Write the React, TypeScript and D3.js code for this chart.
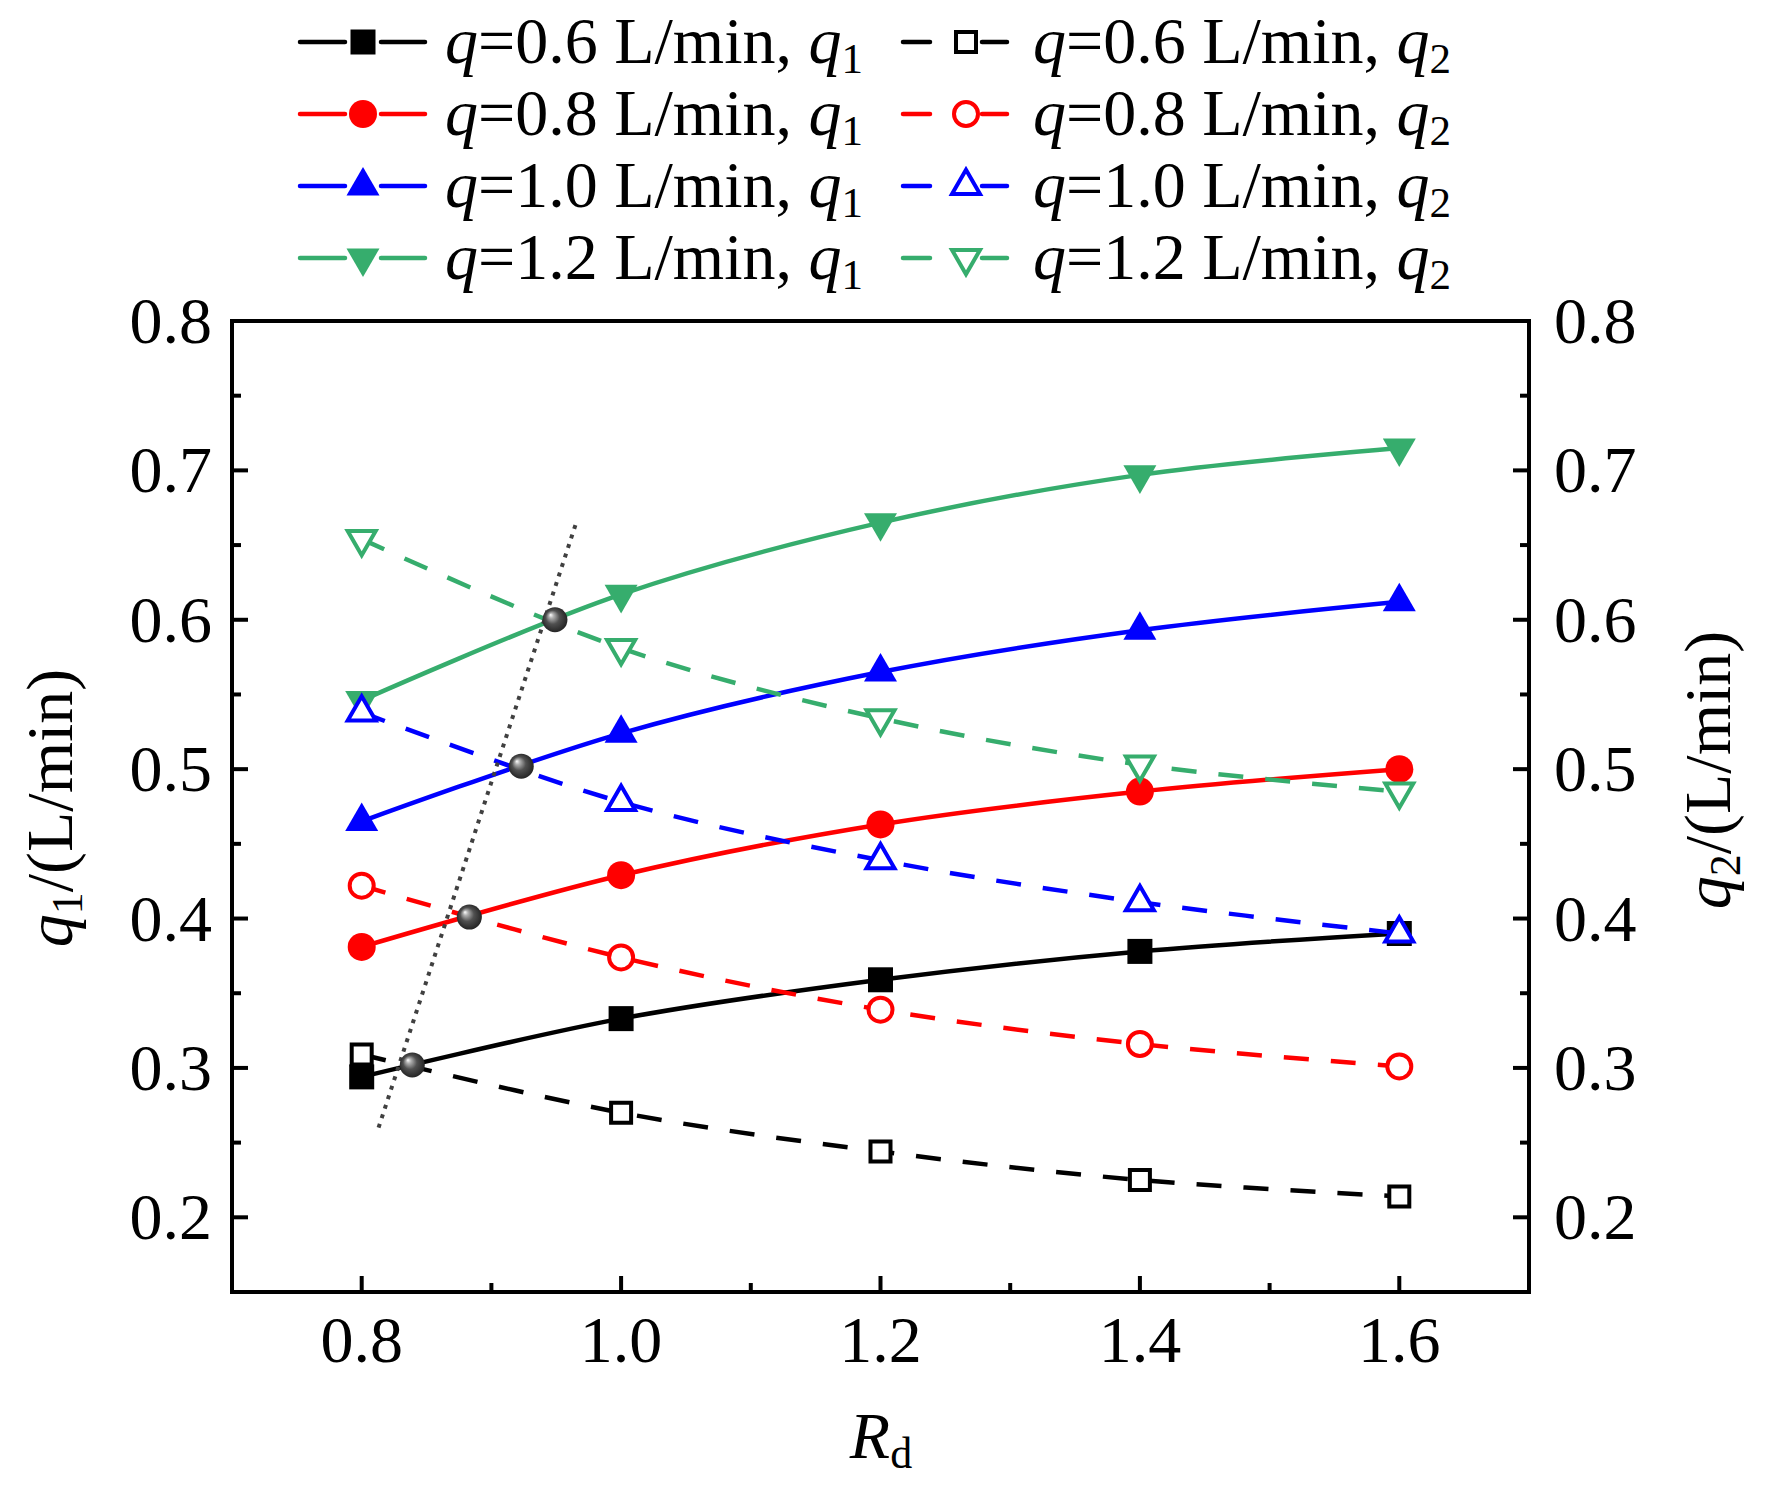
import React from "react";
import * as d3 from "d3";

// Rd values (x axis)
const rd = [0.8, 1.0, 1.2, 1.4, 1.6];

// q1 (solid, filled markers) and q2 (dashed, open markers), L/min
const q1Flow06 = [0.294, 0.333, 0.359, 0.378, 0.39];
const q2Flow06 = [0.309, 0.27, 0.244, 0.225, 0.214];
const q1Flow08 = [0.381, 0.429, 0.463, 0.485, 0.5];
const q2Flow08 = [0.422, 0.374, 0.339, 0.316, 0.301];
const q1Flow10 = [0.465, 0.524, 0.565, 0.593, 0.612];
const q2Flow10 = [0.538, 0.478, 0.439, 0.411, 0.39];
const q1Flow12 = [0.546, 0.617, 0.665, 0.697, 0.715];
const q2Flow12 = [0.654, 0.581, 0.534, 0.503, 0.485];

const flowLabels = ["0.6", "0.8", "1.0", "1.2"];
const colors = ["#000000", "#ff0000", "#0000ff", "#36ad6d"];
const shapes = ["square", "circle", "up", "down"];

// crossing points q1 = q2 and the dotted guide through them
const crossings: [number, number][] = [
  [0.839, 0.302],
  [0.883, 0.401],
  [0.923, 0.502],
  [0.949, 0.6],
];
const guide: [number, number][] = [
  [0.813, 0.26],
  [0.965, 0.664],
];

const xTicks = [0.8, 1.0, 1.2, 1.4, 1.6];
const yTicks = [0.2, 0.3, 0.4, 0.5, 0.6, 0.7, 0.8];

const FONT = "'Liberation Serif', 'Times New Roman', serif";

const q1Series = [q1Flow06, q1Flow08, q1Flow10, q1Flow12];
const q2Series = [q2Flow06, q2Flow08, q2Flow10, q2Flow12];

function markerPath(shape: string, open: boolean) {
  // returns path centred on 0,0
  if (shape === "square") {
    const h = open ? 10 : 12.5;
    return `M${-h},${-h}H${h}V${h}H${-h}Z`;
  }
  if (shape === "circle") {
    const r = open ? 12 : 14;
    return `M${r},0A${r},${r} 0 1,1 ${-r},0A${r},${r} 0 1,1 ${r},0Z`;
  }
  const s = open ? 28 : 33;
  const h = (s * Math.sqrt(3)) / 2;
  const sign = shape === "up" ? 1 : -1;
  return `M0,${(-sign * 2 * h) / 3}L${s / 2},${(sign * h) / 3}L${-s / 2},${(sign * h) / 3}Z`;
}

function Marker({ x, y, shape, color, open }: any) {
  return (
    <path
      d={markerPath(shape, open)}
      transform={`translate(${x},${y})`}
      fill={open ? "#fff" : color}
      stroke={open ? color : "none"}
      strokeWidth={open ? 4 : 0}
      strokeLinejoin="miter"
    />
  );
}

function LegendText({ x, y, flow, sub }: any) {
  return (
    <text x={x} y={y} fontFamily={FONT} fontSize={66} fill="#000">
      <tspan fontStyle="italic">q</tspan>
      {`=${flow} L/min, `}
      <tspan fontStyle="italic">q</tspan>
      <tspan fontSize={43} dy={10}>
        {sub}
      </tspan>
    </text>
  );
}

export default function App() {
  const width = 1772;
  const height = 1492;
  const left = 232;
  const right = 1529;
  const top = 321;
  const bottom = 1292;

  const x = d3.scaleLinear().domain([0.7, 1.7]).range([left, right]);
  const y = d3.scaleLinear().domain([0.15, 0.8]).range([bottom, top]);

  const line = d3
    .line<number>()
    .x((_, i) => x(rd[i]))
    .y((d) => y(d))
    .curve(d3.curveCatmullRom.alpha(0.5));

  const xMinor = d3.range(0.9, 1.6, 0.2);
  const yMinor = d3.range(0.25, 0.8, 0.1);

  const rowBase = [63, 135, 207, 279];

  return (
    <div style={{ position: "absolute", left: 0, top: 0 }}>
      <svg width={width} height={height} viewBox={`0 0 ${width} ${height}`}>
        <defs>
          <radialGradient id="ball" cx="50%" cy="50%" r="55%" fx="32%" fy="30%">
            <stop offset="0%" stopColor="#ffffff" />
            <stop offset="18%" stopColor="#b0b0b0" />
            <stop offset="50%" stopColor="#505050" />
            <stop offset="100%" stopColor="#1e1e1e" />
          </radialGradient>
        </defs>
        <rect width={width} height={height} fill="#fff" />

        {/* legend */}
        {flowLabels.map((f, i) => {
          const ly = rowBase[i] - 21;
          return (
            <g key={"leg" + i}>
              <line x1={300} x2={345} y1={ly} y2={ly} stroke={colors[i]} strokeWidth={4.5} strokeLinecap="round" />
              <line x1={381} x2={425} y1={ly} y2={ly} stroke={colors[i]} strokeWidth={4.5} strokeLinecap="round" />
              <Marker x={363} y={ly} shape={shapes[i]} color={colors[i]} open={false} />
              <LegendText x={445} y={rowBase[i]} flow={f} sub="1" />
              <line x1={903} x2={930} y1={ly} y2={ly} stroke={colors[i]} strokeWidth={4.5} strokeLinecap="round" />
              <line x1={982} x2={1007} y1={ly} y2={ly} stroke={colors[i]} strokeWidth={4.5} strokeLinecap="round" />
              <Marker x={966} y={ly} shape={shapes[i]} color={colors[i]} open={true} />
              <LegendText x={1033} y={rowBase[i]} flow={f} sub="2" />
            </g>
          );
        })}

        {/* ticks */}
        {xTicks.map((t) => (
          <g key={"xt" + t}>
            <line x1={x(t)} x2={x(t)} y1={bottom} y2={bottom - 16} stroke="#000" strokeWidth={4} />
            <text x={x(t)} y={1362} textAnchor="middle" fontFamily={FONT} fontSize={66}>
              {d3.format(".1f")(t)}
            </text>
          </g>
        ))}
        {xMinor.map((t) => (
          <line key={"xm" + t} x1={x(t)} x2={x(t)} y1={bottom} y2={bottom - 9} stroke="#000" strokeWidth={4} />
        ))}
        {yTicks.map((t) => (
          <g key={"yt" + t}>
            <line x1={left} x2={left + 16} y1={y(t)} y2={y(t)} stroke="#000" strokeWidth={4} />
            <line x1={right} x2={right - 16} y1={y(t)} y2={y(t)} stroke="#000" strokeWidth={4} />
            <text x={212} y={y(t) + 22} textAnchor="end" fontFamily={FONT} fontSize={66}>
              {d3.format(".1f")(t)}
            </text>
            <text x={1554} y={y(t) + 22} textAnchor="start" fontFamily={FONT} fontSize={66}>
              {d3.format(".1f")(t)}
            </text>
          </g>
        ))}
        {yMinor.map((t) => (
          <g key={"ym" + t}>
            <line x1={left} x2={left + 9} y1={y(t)} y2={y(t)} stroke="#000" strokeWidth={4} />
            <line x1={right} x2={right - 9} y1={y(t)} y2={y(t)} stroke="#000" strokeWidth={4} />
          </g>
        ))}

        {/* q1 solid lines */}
        {q1Series.map((s, i) => (
          <g key={"q1" + i}>
            <path d={line(s) || ""} fill="none" stroke={colors[i]} strokeWidth={4.5} />
            {s.map((v, j) => (
              <Marker key={j} x={x(rd[j])} y={y(v)} shape={shapes[i]} color={colors[i]} open={false} />
            ))}
          </g>
        ))}

        {/* q2 dashed lines */}
        {q2Series.map((s, i) => (
          <g key={"q2" + i}>
            <path d={line(s) || ""} fill="none" stroke={colors[i]} strokeWidth={4.5} strokeDasharray="25 22" />
            {s.map((v, j) => (
              <Marker key={j} x={x(rd[j])} y={y(v)} shape={shapes[i]} color={colors[i]} open={true} />
            ))}
          </g>
        ))}

        {/* dotted guide and crossing balls */}
        <line
          x1={x(guide[0][0])}
          y1={y(guide[0][1])}
          x2={x(guide[1][0])}
          y2={y(guide[1][1])}
          stroke="#404040"
          strokeWidth={4}
          strokeDasharray="4 6"
        />
        {crossings.map((c, i) => (
          <circle key={"c" + i} cx={x(c[0])} cy={y(c[1])} r={12.5} fill="url(#ball)" />
        ))}

        {/* frame */}
        <rect x={left} y={top} width={right - left} height={bottom - top} fill="none" stroke="#000" strokeWidth={4} />

        {/* axis titles */}
        <text transform="translate(881,1458)" textAnchor="middle" fontFamily={FONT} fontSize={66}>
          <tspan fontStyle="italic">R</tspan>
          <tspan fontSize={44} dy={10}>d</tspan>
        </text>
        <text transform="translate(72,808) rotate(-90)" textAnchor="middle" fontFamily={FONT} fontSize={66}>
          <tspan fontStyle="italic">q</tspan>
          <tspan fontSize={44} dy={10}>1</tspan>
          <tspan dy={-10}>/(L/min)</tspan>
        </text>
        <text transform="translate(1730,770) rotate(-90)" textAnchor="middle" fontFamily={FONT} fontSize={66}>
          <tspan fontStyle="italic">q</tspan>
          <tspan fontSize={44} dy={10}>2</tspan>
          <tspan dy={-10}>/(L/min)</tspan>
        </text>
      </svg>
    </div>
  );
}
